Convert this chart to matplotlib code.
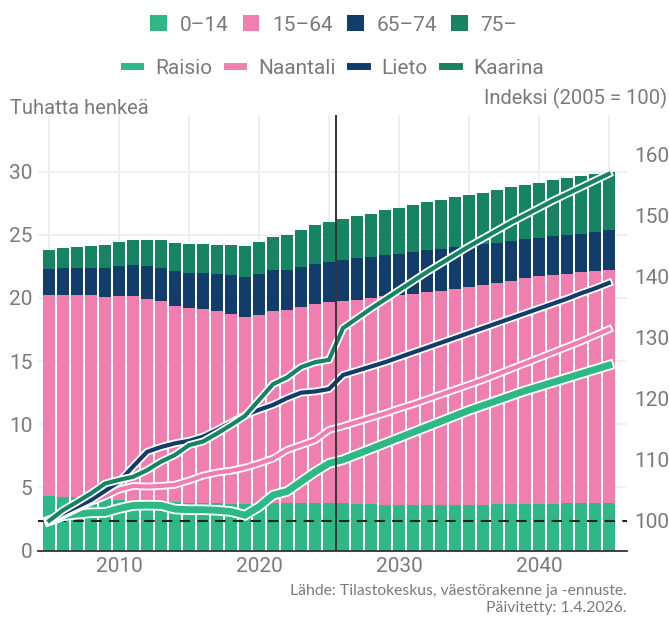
import matplotlib
matplotlib.use("Agg")
import matplotlib.pyplot as plt
import matplotlib.patheffects as pe
from matplotlib.patches import Patch
from matplotlib.lines import Line2D
import numpy as np

plt.rcParams['font.family'] = ['Roboto', 'DejaVu Sans']

years = list(range(2005, 2046))

# ikäryhmät, tuhatta henkeä
a0_14 = [4.35, 4.27, 4.20, 4.13, 4.06, 4.00, 3.95, 3.90, 3.86, 3.82, 3.79, 3.76, 3.73, 3.70,
         3.68, 3.74, 3.76, 3.76, 3.75, 3.75, 3.74, 3.74, 3.72, 3.72, 3.62, 3.62, 3.61, 3.61,
         3.60, 3.60, 3.60, 3.61, 3.68, 3.68, 3.68, 3.69, 3.69, 3.74, 3.75, 3.75, 3.75]
a15_64 = [15.88, 15.96, 16.03, 16.10, 16.01, 16.15, 16.20, 16.01, 15.89, 15.54, 15.41, 15.36,
          15.23, 15.02, 14.81, 14.90, 15.20, 15.28, 15.53, 15.76, 15.93, 16.01, 16.11, 16.27,
          16.53, 16.61, 16.70, 16.86, 16.95, 17.11, 17.26, 17.41, 17.50, 17.66, 17.90, 18.04,
          18.12, 18.15, 18.30, 18.38, 18.46]
a65_74 = [2.06, 2.14, 2.14, 2.14, 2.30, 2.38, 2.46, 2.62, 2.62, 2.77, 2.77, 2.85, 2.93, 3.09,
          3.16, 3.25, 3.25, 3.17, 3.17, 3.17, 3.17, 3.25, 3.33, 3.25, 3.25, 3.25, 3.32, 3.32,
          3.32, 3.32, 3.29, 3.25, 3.17, 3.17, 3.08, 3.01, 3.09, 3.09, 3.01, 3.09, 3.17]
a75 = [1.50, 1.58, 1.66, 1.74, 1.82, 1.90, 1.98, 2.06, 2.22, 2.22, 2.30, 2.30, 2.30, 2.38,
       2.46, 2.54, 2.61, 2.77, 2.93, 3.09, 3.17, 3.25, 3.33, 3.40, 3.56, 3.64, 3.73, 3.81,
       3.88, 3.96, 4.00, 4.04, 4.20, 4.27, 4.28, 4.36, 4.44, 4.51, 4.59, 4.59, 4.59]

# indeksit (2005 = 100)
raisio = [100, 100.8, 101.1, 101.3, 101.35, 102.0, 102.5, 102.55, 102.5, 101.9, 101.8, 101.8,
          101.7, 101.5, 100.9, 102.3, 104.2, 104.8, 106.4, 108.0, 109.4,
          110.0, 110.9, 111.8, 112.7, 113.6, 114.5, 115.4, 116.3, 117.2, 118.1, 118.9, 119.7,
          120.5, 121.3, 122.0, 122.7, 123.4, 124.1, 124.8, 125.5]
naantali = [100, 100.9, 102.0, 103.1, 104.0, 105.1, 105.7, 105.6, 105.7, 105.9, 106.6, 107.4,
            107.9, 108.2, 108.7, 109.4, 110.2, 111.6, 112.4, 113.2, 114.9,
            115.5, 116.2, 116.9, 117.6, 118.4, 119.1, 119.9, 120.7, 121.5, 122.3, 123.1,
            124.0, 124.9, 125.8, 126.7, 127.6, 128.5, 129.4, 130.4, 131.4]
lieto = [100, 101.2, 102.3, 103.4, 104.9, 106.4, 108.9, 111.3, 112.1, 112.7, 113.1, 113.8,
         114.9, 116.1, 117.3, 118.2, 119.0, 120.1, 121.0, 121.2, 121.6,
         123.9, 124.6, 125.3, 126.0, 126.8, 127.6, 128.4, 129.2, 130.0, 130.8, 131.6, 132.4,
         133.2, 134.0, 134.8, 135.6, 136.4, 137.3, 138.1, 139.0]
kaarina = [100, 101.75, 103.1, 104.5, 106.1, 106.7, 107.2, 108.3, 109.7, 110.8, 112.4, 113.0,
           114.3, 115.7, 117.2, 119.8, 122.4, 123.5, 125.2, 126.0, 126.4,
           131.6, 133.2, 134.8, 136.3, 137.8, 139.3, 140.8, 142.2, 143.6, 145.0, 146.3,
           147.6, 148.9, 150.1, 151.3, 152.5, 153.6, 154.7, 155.8, 156.9]

age_labels = ["0–14", "15–64", "65–74", "75–"]
age_colors = ["#2db886", "#f07fb0", "#123d6b", "#168462"]
town_labels = ["Raisio", "Naantali", "Lieto", "Kaarina"]
town_colors = ["#2db886", "#f07fb0", "#123d6b", "#168462"]

grey = "#7a7a7a"

fig = plt.figure(figsize=(6.69, 6.17), dpi=100)
ax = fig.add_axes([38 / 669, 1 - 550.5 / 617, (627 - 38) / 669, (550.5 - 115) / 617])

bottom = np.zeros(len(years))
for vals, col in zip([a0_14, a15_64, a65_74, a75], age_colors):
    ax.bar(years, vals, bottom=bottom, width=0.9, color=col, zorder=2)
    bottom += np.array(vals)

ax.set_xlim(2004.2, 2046.3)
ax.set_ylim(0, 34.49)
ax.set_yticks(range(0, 31, 5))
ax.set_xticks([2010, 2020, 2030, 2040])
ax.set_xticks(range(2005, 2046, 5), minor=True)
ax.grid(True, which='both', color="#eeeeee", linewidth=1.3, zorder=0)
ax.set_axisbelow(True)
for s in ["top", "right", "left"]:
    ax.spines[s].set_visible(False)
ax.spines["bottom"].set_color("#333333")
ax.spines["bottom"].set_linewidth(1.3)
ax.spines["bottom"].set_zorder(5)
ax.tick_params(axis='both', which='both', length=0, labelsize=15, labelcolor=grey)
ax.tick_params(axis='x', pad=5)
ax.tick_params(axis='y', pad=4)

ax2 = ax.twinx()
ax2.set_ylim(95.11, 166.56)
ax2.set_yticks(range(100, 161, 10))
for s in ["top", "right", "left", "bottom"]:
    ax2.spines[s].set_visible(False)
ax2.tick_params(axis='y', length=0, labelsize=15, labelcolor=grey, pad=5)

ax2.axhline(100, color="#222222", linewidth=1.5, linestyle=(0, (5, 3.5)), zorder=3)

widths = [5.0, 3.0, 3.0, 3.0]
for vals, col, lw in zip([raisio, naantali, lieto, kaarina], town_colors, widths):
    ax2.plot(years, vals, color=col, linewidth=lw, zorder=4, solid_joinstyle='miter',
             path_effects=[pe.Stroke(linewidth=lw + 2.6, foreground='white'), pe.Normal()])

ax2.axvline(2025.5, color="#333333", linewidth=1.4, zorder=6)

# legendat
h1 = [Patch(facecolor=c, edgecolor='none') for c in age_colors]
fig.legend(h1, age_labels, loc='center', bbox_to_anchor=(334 / 669, 1 - 25 / 617),
           ncol=4, frameon=False, fontsize=15, handlelength=0.8, handleheight=0.8,
           handletextpad=0.6, columnspacing=0.7, labelcolor=grey)
h2 = [Line2D([0], [0], color=c, linewidth=5) for c in town_colors]
fig.legend(h2, town_labels, loc='center', bbox_to_anchor=(334 / 669, 1 - 68 / 617),
           ncol=4, frameon=False, fontsize=15, handlelength=0.8,
           handletextpad=0.7, columnspacing=0.7, labelcolor=grey)

fig.text(10 / 669, 1 - 109 / 617, "Tuhatta henkeä", fontsize=14.5, color=grey,
         ha='left', va='center')
fig.text(667 / 669, 1 - 98 / 617, "Indeksi (2005 = 100)", fontsize=14.5, color=grey,
         ha='right', va='center')

src_font = ['Lato', 'DejaVu Sans']
fig.text(627 / 669, 1 - 591 / 617, "Lähde: Tilastokeskus, väestörakenne ja -ennuste.",
         fontsize=11.3, color=grey, ha='right', va='center', family=src_font)
fig.text(627 / 669, 1 - 608 / 617, "Päivitetty: 1.4.2026.",
         fontsize=11.3, color=grey, ha='right', va='center', family=src_font)

fig.savefig("out.png", dpi=100)
